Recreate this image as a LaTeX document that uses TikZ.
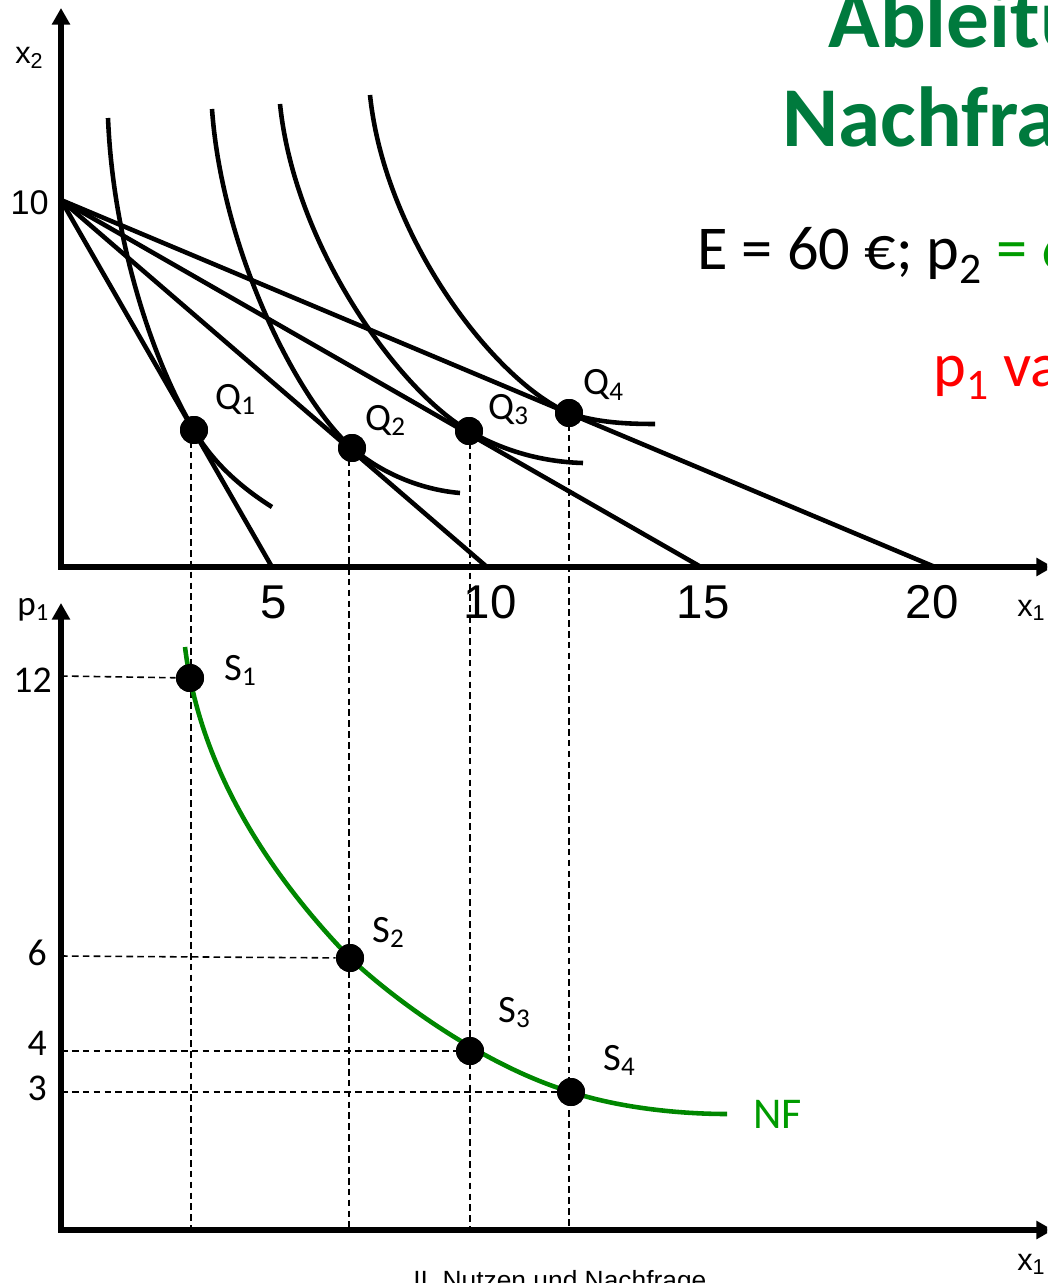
\documentclass[tikz,border=0pt]{standalone}
\usepackage{fontspec}
\setmainfont{Carlito}
\newfontfamily\arialf{Liberation Sans}
\usetikzlibrary{arrows.meta}
\definecolor{titlegreen}{RGB}{0,122,61}
\definecolor{nfgreen}{RGB}{0,135,0}
\definecolor{textgreen}{RGB}{0,155,0}
\definecolor{varred}{RGB}{255,0,0}
\begin{document}
\begin{tikzpicture}[x=0.02cm,y=-0.02cm,
  axis/.style={line width=3pt,line join=miter,{Triangle[length=9.5pt,width=10pt]}-{Triangle[length=9.5pt,width=10pt]}},
  ic/.style={line width=2.6pt},
  budget/.style={line width=2.6pt},
  nf/.style={line width=2.6pt,draw=nfgreen},
  guide/.style={line width=0.9pt,dash pattern=on 3.8pt off 2.4pt},
  dot/.style={circle,fill=black,minimum size=0.56cm,inner sep=0pt},
  lbl/.style={inner sep=0pt,anchor=base west,font=\fontsize{22}{22}\selectfont},
  tick/.style={inner sep=0pt,anchor=base,font=\arialf\fontsize{27}{27}\selectfont},
  ptick/.style={inner sep=0pt,anchor=base east,font=\fontsize{21.5}{21.5}\selectfont},
  axlbl/.style={inner sep=0pt,anchor=base west,font=\arialf\fontsize{17.5}{17.5}\selectfont}]
\useasboundingbox (0,0) rectangle (1047,1283);
\clip (0,0) rectangle (1047,1283);

% ---------- title texts ----------
\node[inner sep=0pt,anchor=base west,text=titlegreen,font=\bfseries\fontsize{48.5}{48.5}\selectfont] (t1) at (828,48) {Ableitung der};
\node[inner sep=0pt,anchor=base west,text=titlegreen,font=\bfseries\fontsize{48.5}{48.5}\selectfont] (t2) at (782,147) {Nachfragekurve};
\node[inner sep=0pt,anchor=base west,font=\fontsize{35.5}{35.5}\selectfont] (t3) at (697,270) {E = 60 €; p\textsubscript{2} \textcolor{textgreen}{= 6 €}};
\node[inner sep=0pt,anchor=base west,text=varred,font=\fontsize{35.5}{35.5}\selectfont] (t4) at (933,386) {p\textsubscript{1} variiert};

% ---------- top diagram ----------
\coordinate (Y1) at (61,8);
\coordinate (O1) at (61,567);
\coordinate (X1) at (1053,567);
\coordinate (A) at (61,200);
\coordinate (B1) at (272,567);
\coordinate (B2) at (487,567);
\coordinate (B3) at (701,567);
\coordinate (B4) at (935,567);

\draw[budget] (A) -- (B1);
\draw[budget] (A) -- (B2);
\draw[budget] (A) -- (B3);
\draw[budget] (A) -- (B4);

\node[dot] (Q1) at (194,430) {};
\node[dot] (Q2) at (352,448) {};
\node[dot] (Q3) at (469,431) {};
\node[dot] (Q4) at (569,413) {};

\draw[ic] (108,118) .. controls (113,240) and (152,360) .. (Q1.center)
          .. controls (214,465) and (245,490) .. (272,507);
\draw[ic] (212,109) .. controls (222,250) and (297,400) .. (Q2.center)
          .. controls (385,476) and (425,490) .. (460,493);
\draw[ic] (280,104) .. controls (295,250) and (402,393) .. (Q3.center)
          .. controls (505,452) and (545,462) .. (583,463);
\draw[ic] (370,95) .. controls (385,240) and (497,383) .. (Q4.center)
          .. controls (597,423) and (630,424) .. (655,424);

% ---------- bottom diagram ----------
\coordinate (Y2) at (61,603);
\coordinate (O2) at (61,1230);
\coordinate (X2) at (1053,1230);

\coordinate (V1) at (191,1230);
\coordinate (V2) at (349,1230);
\coordinate (V3) at (470,1230);
\coordinate (V4) at (569,1230);
\coordinate (Q1b) at (191,430);
\coordinate (Q2b) at (349,448);
\coordinate (Q3b) at (470,431);
\coordinate (Q4b) at (569,413);
\draw[guide] (Q1b) -- (V1);
\draw[guide] (Q2b) -- (V2);
\draw[guide] (Q3b) -- (V3);
\draw[guide] (Q4b) -- (V4);

\node[dot] at (Q1) {};
\node[dot] at (Q2) {};
\node[dot] at (Q3) {};
\node[dot] at (Q4) {};

\coordinate (H1) at (61,676);
\coordinate (H2) at (61,956);
\coordinate (H3) at (61,1051);
\coordinate (H4) at (61,1092);

\node[dot] (S1) at (190,678) {};
\node[dot] (S2) at (350,958) {};
\node[dot] (S3) at (470,1051) {};
\node[dot] (S4) at (571,1092) {};

\draw[nf] (185,647) .. controls (200,770) and (270,875) .. (S2.center)
          .. controls (400,1005) and (490,1068) .. (S4.center)
          .. controls (620,1108) and (680,1114) .. (727,1114);

\draw[guide] (H1) -- (S1);
\draw[guide] (H2) -- (S2);
\draw[guide] (H3) -- (S3);
\draw[guide] (H4) -- (S4);
\node[dot] at (S1) {};
\node[dot] at (S2) {};
\node[dot] at (S3) {};
\node[dot] at (S4) {};

% axes
\draw[axis] (Y1) -- (O1) -- (X1);
\draw[axis] (Y2) -- (O2) -- (X2);

% ---------- labels ----------
\node[lbl] (lQ1) at (215,409) {Q\textsubscript{1}};
\node[lbl] (lQ2) at (365,430) {Q\textsubscript{2}};
\node[lbl] (lQ3) at (488,419) {Q\textsubscript{3}};
\node[lbl] (lQ4) at (583,395) {Q\textsubscript{4}};
\node[lbl] (lS1) at (224,680) {S\textsubscript{1}};
\node[lbl] (lS2) at (372,942) {S\textsubscript{2}};
\node[lbl] (lS3) at (498,1022) {S\textsubscript{3}};
\node[lbl] (lS4) at (603,1070) {S\textsubscript{4}};
\node[inner sep=0pt,anchor=base west,text=textgreen,font=\fontsize{25}{25}\selectfont] (lNF) at (753,1128) {NF};

\node[tick] (k5) at (274,618) {5};
\node[tick] (k10) at (490,618) {10};
\node[tick] (k15) at (703,618) {15};
\node[tick] (k20) at (932,618) {20};
\node[inner sep=0pt,anchor=base east,font=\arialf\fontsize{19.5}{19.5}\selectfont] (k10y) at (49,215) {10};

\node[ptick] (p12) at (52,692) {12};
\node[ptick] (p6) at (47,965) {6};
\node[ptick] (p4) at (47,1055) {4};
\node[ptick] (p3) at (47,1100) {3};

\node[axlbl] (lx2) at (15,64) {x\textsubscript{2}};
\node[axlbl] (lx1a) at (1017,616) {x\textsubscript{1}};
\node[axlbl] (lx1b) at (1017,1270) {x\textsubscript{1}};
\node[inner sep=0pt,anchor=base west,font=\fontsize{20}{20}\selectfont] (lp1) at (17,615) {p\textsubscript{1}};

\node[inner sep=0pt,anchor=base west,font=\arialf\fontsize{15}{15}\selectfont] (foot) at (413,1289) {II. Nutzen und Nachfrage};
\end{tikzpicture}
\end{document}
